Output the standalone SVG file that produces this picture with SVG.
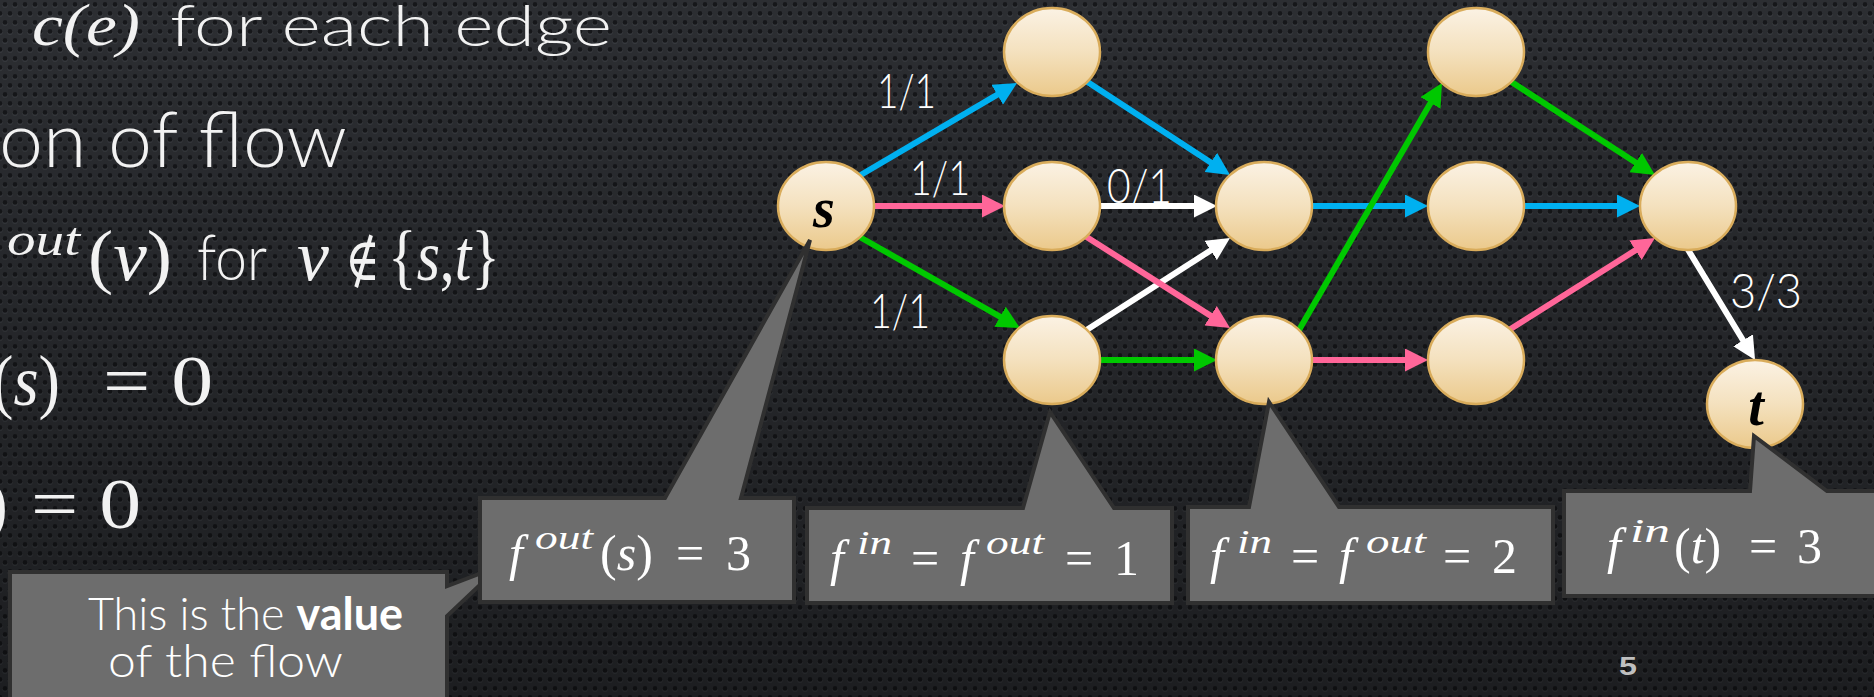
<svg xmlns="http://www.w3.org/2000/svg" width="1874" height="697" viewBox="0 0 1874 697">
<defs>
  <pattern id="dots" width="10" height="18" patternUnits="userSpaceOnUse">
    <rect width="10" height="18" fill="#2c2e32"/>
    <circle cx="5" cy="5.2" r="2.6" fill="#3a3d42"/>
    <circle cx="5" cy="4.4" r="2.4" fill="#16171a"/>
    <circle cx="0" cy="14.2" r="2.6" fill="#3a3d42"/>
    <circle cx="0" cy="13.4" r="2.4" fill="#16171a"/>
    <circle cx="10" cy="14.2" r="2.6" fill="#3a3d42"/>
    <circle cx="10" cy="13.4" r="2.4" fill="#16171a"/>
  </pattern>
  <linearGradient id="shade" x1="0" y1="0" x2="0" y2="1">
    <stop offset="0" stop-color="#000" stop-opacity="0"/>
    <stop offset="1" stop-color="#000" stop-opacity="0.35"/>
  </linearGradient>
  <linearGradient id="nodeFill" x1="0" y1="0" x2="0" y2="1">
    <stop offset="0" stop-color="#fbf2e4"/>
    <stop offset="0.5" stop-color="#f4e1be"/>
    <stop offset="1" stop-color="#ebc98b"/>
  </linearGradient>
  <marker id="ab" markerUnits="userSpaceOnUse" markerWidth="23" markerHeight="23" viewBox="0 0 23 23" refX="11" refY="11.5" orient="auto"><path d="M0,0 L23,11.5 L0,23 Z" fill="#00b0f0"/></marker>
  <marker id="ap" markerUnits="userSpaceOnUse" markerWidth="23" markerHeight="23" viewBox="0 0 23 23" refX="11" refY="11.5" orient="auto"><path d="M0,0 L23,11.5 L0,23 Z" fill="#ff6699"/></marker>
  <marker id="ag" markerUnits="userSpaceOnUse" markerWidth="23" markerHeight="23" viewBox="0 0 23 23" refX="11" refY="11.5" orient="auto"><path d="M0,0 L23,11.5 L0,23 Z" fill="#00c800"/></marker>
  <marker id="aw" markerUnits="userSpaceOnUse" markerWidth="23" markerHeight="23" viewBox="0 0 23 23" refX="11" refY="11.5" orient="auto"><path d="M0,0 L23,11.5 L0,23 Z" fill="#ffffff"/></marker>
  <style>
    .node { fill: url(#nodeFill); stroke: #d9ac5b; stroke-width: 2.5; }
    .nl { font-family: "Liberation Serif", "DejaVu Serif", serif; font-style: italic; font-weight: bold; font-size: 56px; fill: #000; text-anchor: middle; }
    .e { fill: none; stroke-width: 6; stroke-linecap: round; }
    .blue { stroke: #00b0f0; marker-end: url(#ab); }
    .pink { stroke: #ff6699; marker-end: url(#ap); }
    .green { stroke: #00c800; marker-end: url(#ag); }
    .white { stroke: #ffffff; marker-end: url(#aw); }
    .lbl { font-family: Lato, "Open Sans", "DejaVu Sans", sans-serif; font-weight: 300; font-size: 48px; fill: #ffffff; }
    .sans { font-family: Lato, "Open Sans", "DejaVu Sans", sans-serif; font-weight: 300; fill: #f2f2f2; }
    .math { font-family: "Liberation Serif", "DejaVu Serif", serif; fill: #f2f2f2; }
    .it { font-style: italic; }
    .call { fill: #6d6d6d; stroke: #303030; stroke-width: 4; stroke-linejoin: miter; }
    .bm { font-family: "Liberation Serif", "DejaVu Serif", serif; fill: #ffffff; font-size: 50px; }
    .sup { font-size: 34px; font-style: italic; }
    .note { font-family: Lato, "Open Sans", "DejaVu Sans", sans-serif; font-weight: 300; fill: #ffffff; font-size: 46px; }
  </style>
</defs>

<g id="background">
  <rect width="1874" height="697" fill="url(#dots)"/>
  <rect width="1874" height="697" fill="url(#shade)"/>
</g>

<g id="left-text">
  <text class="math" x="-29" y="45" font-size="54">≤</text>
  <text class="math it" x="32" y="45" font-size="60" textLength="108" lengthAdjust="spacingAndGlyphs">c(e)</text>
  <text class="sans" x="170" y="46" font-size="57" textLength="442" lengthAdjust="spacingAndGlyphs">for each edge</text>
  <text class="sans" x="-1" y="167" font-size="76" textLength="348" lengthAdjust="spacingAndGlyphs">on of flow</text>
  <text class="math it" x="7" y="255" font-size="46" textLength="73" lengthAdjust="spacingAndGlyphs">out</text>
  <text class="math" x="88" y="280" font-size="72" textLength="84" lengthAdjust="spacingAndGlyphs">(<tspan class="it">v</tspan>)</text>
  <text class="sans" x="197" y="280" font-size="64" textLength="70" lengthAdjust="spacingAndGlyphs">for</text>
  <text class="math it" x="297" y="280" font-size="72">v</text>
  <text class="math" x="345" y="280" font-size="60" textLength="35" lengthAdjust="spacingAndGlyphs">∉</text>
  <text class="math" x="388" y="280" font-size="72" textLength="112" lengthAdjust="spacingAndGlyphs">{<tspan class="it">s</tspan>,<tspan class="it">t</tspan>}</text>
  <text class="math" x="-8" y="405" font-size="72" textLength="68" lengthAdjust="spacingAndGlyphs">(<tspan class="it">s</tspan>)</text>
  <text class="math" x="103" y="405" font-size="72" textLength="110" lengthAdjust="spacingAndGlyphs">= 0</text>
  <text class="math" x="-16" y="528" font-size="72">)</text>
  <text class="math" x="31" y="528" font-size="72" textLength="110" lengthAdjust="spacingAndGlyphs">= 0</text>
</g>

<g id="connectors">
  <line class="e blue" x1="859" y1="176" x2="1006.7" y2="89.1"/>
  <line class="e pink" x1="873" y1="206" x2="993" y2="206"/>
  <line class="e green" x1="858" y1="236" x2="1009.6" y2="322.1"/>
  <line class="e blue" x1="1086" y1="81" x2="1220" y2="168.4"/>
  <line class="e white" x1="1100" y1="206" x2="1205" y2="206"/>
  <line class="e white" x1="1085" y1="331" x2="1219.9" y2="244.5"/>
  <line class="e pink" x1="1085" y1="236" x2="1219.9" y2="321.6"/>
  <line class="e green" x1="1100" y1="360" x2="1205" y2="360"/>
  <line class="e blue" x1="1312" y1="206" x2="1416" y2="206"/>
  <line class="e green" x1="1299" y1="330" x2="1436" y2="93.4"/>
  <line class="e blue" x1="1523" y1="206" x2="1628" y2="206"/>
  <line class="e green" x1="1510" y1="81" x2="1644.9" y2="168.5"/>
  <line class="e pink" x1="1509" y1="330" x2="1644.8" y2="244.4"/>
  <line class="e pink" x1="1312" y1="360" x2="1416" y2="360"/>
  <line class="e white" x1="1687" y1="248" x2="1748.8" y2="349.7"/>
</g>

<g id="edge-labels">
  <text class="lbl" x="877" y="108" textLength="59" lengthAdjust="spacingAndGlyphs">1/1</text>
  <text class="lbl" x="910" y="195" textLength="60" lengthAdjust="spacingAndGlyphs">1/1</text>
  <text class="lbl" x="1107" y="203" textLength="65" lengthAdjust="spacingAndGlyphs">0/1</text>
  <text class="lbl" x="870" y="328" textLength="60" lengthAdjust="spacingAndGlyphs">1/1</text>
  <text class="lbl" x="1730" y="308" textLength="72" lengthAdjust="spacingAndGlyphs">3/3</text>
</g>

<g id="node-s"><ellipse class="node" cx="826" cy="206" rx="48" ry="44"/><text class="nl" x="824" y="227">s</text></g>
<g id="node-a1"><ellipse class="node" cx="1052" cy="52" rx="48" ry="44"/></g>
<g id="node-b1"><ellipse class="node" cx="1052" cy="206" rx="48" ry="44"/></g>
<g id="node-c1"><ellipse class="node" cx="1052" cy="360" rx="48" ry="44"/></g>
<g id="node-b2"><ellipse class="node" cx="1264" cy="206" rx="48" ry="44"/></g>
<g id="node-c2"><ellipse class="node" cx="1264" cy="360" rx="48" ry="44"/></g>
<g id="node-a3"><ellipse class="node" cx="1476" cy="52" rx="48" ry="44"/></g>
<g id="node-b3"><ellipse class="node" cx="1476" cy="206" rx="48" ry="44"/></g>
<g id="node-c3"><ellipse class="node" cx="1476" cy="360" rx="48" ry="44"/></g>
<g id="node-b4"><ellipse class="node" cx="1688" cy="206" rx="48" ry="44"/></g>
<g id="node-t"><ellipse class="node" cx="1755" cy="404" rx="48" ry="44"/><text class="nl" x="1756" y="425">t</text></g>

<g id="callout-value">
  <path class="call" d="M10,572 L447,572 L447,586 L500,566 L447,616 L447,712 L10,712 Z"/>
  <text class="note" x="88" y="630" textLength="315" lengthAdjust="spacingAndGlyphs">This is the <tspan font-weight="bold">value</tspan></text>
  <text class="note" x="108" y="677" textLength="235" lengthAdjust="spacingAndGlyphs">of the flow</text>
</g>

<g id="callout-s">
  <path class="call" d="M480,498 L665,498 L810,240 L741,498 L794,498 L794,602 L480,602 Z"/>
  <text class="bm" y="570"><tspan x="509" class="it">f</tspan><tspan x="535" y="549" class="sup" textLength="58" lengthAdjust="spacingAndGlyphs">out</tspan><tspan x="600" y="570">(</tspan><tspan class="it">s</tspan><tspan>)</tspan><tspan x="676">=</tspan><tspan x="726">3</tspan></text>
</g>

<g id="callout-c1">
  <path class="call" d="M807,508 L1023,508 L1050,412 L1114,508 L1172,508 L1172,603 L807,603 Z"/>
  <text class="bm" y="575"><tspan x="830" class="it">f</tspan><tspan x="857" y="554" class="sup" textLength="35" lengthAdjust="spacingAndGlyphs">in</tspan><tspan x="911" y="575">=</tspan><tspan x="960" class="it">f</tspan><tspan x="986" y="554" class="sup" textLength="58" lengthAdjust="spacingAndGlyphs">out</tspan><tspan x="1065" y="575">=</tspan><tspan x="1114">1</tspan></text>
</g>

<g id="callout-c2">
  <path class="call" d="M1188,507 L1249,507 L1269,402 L1339,507 L1553,507 L1553,603 L1188,603 Z"/>
  <text class="bm" y="573"><tspan x="1210" class="it">f</tspan><tspan x="1237" y="553" class="sup" textLength="35" lengthAdjust="spacingAndGlyphs">in</tspan><tspan x="1291" y="573">=</tspan><tspan x="1339" class="it">f</tspan><tspan x="1366" y="553" class="sup" textLength="60" lengthAdjust="spacingAndGlyphs">out</tspan><tspan x="1443" y="573">=</tspan><tspan x="1492">2</tspan></text>
</g>

<g id="callout-t">
  <path class="call" d="M1564,491 L1750,491 L1754,436 L1827,491 L1890,491 L1890,596 L1564,596 Z"/>
  <text class="bm" y="563"><tspan x="1607" class="it">f</tspan><tspan x="1630" y="542" class="sup" textLength="40" lengthAdjust="spacingAndGlyphs">in</tspan><tspan x="1674" y="563">(</tspan><tspan class="it">t</tspan><tspan>)</tspan><tspan x="1749">=</tspan><tspan x="1797">3</tspan></text>
</g>

<g id="page-number">
  <text x="1619" y="675" font-family="'Liberation Sans Narrow', 'Liberation Sans', sans-serif" font-weight="bold" font-size="26" fill="#bfbfbf" textLength="18" lengthAdjust="spacingAndGlyphs">5</text>
</g>
</svg>
